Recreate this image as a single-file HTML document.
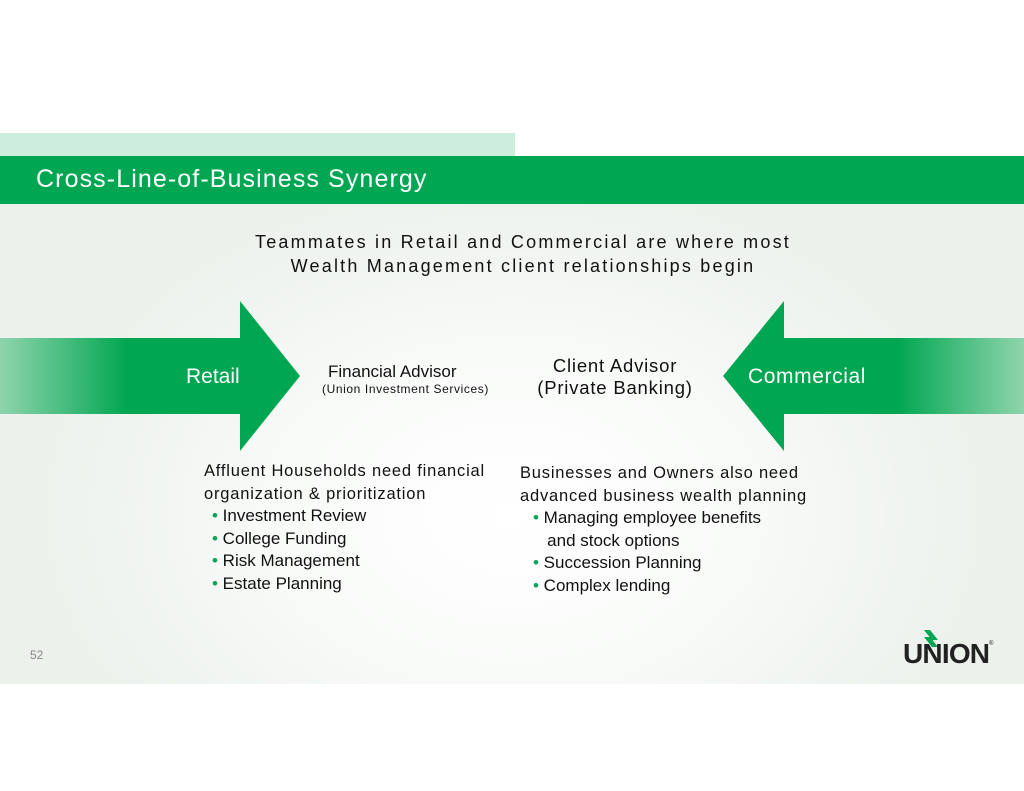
<!DOCTYPE html>
<html><head><meta charset="utf-8"><style>
body{margin:0;width:1024px;height:791px;position:relative;background:#fff;font-family:"Liberation Sans",sans-serif;overflow:hidden}
.a{position:absolute;white-space:nowrap}
</style></head><body>
<div class="a" style="left:0;top:133px;width:515px;height:23px;background:#cdeedd"></div>
<div class="a" style="left:0;top:156px;width:1024px;height:48px;background:#00a651"></div>
<div class="a" style="left:36px;top:165px;font-size:25px;color:#fff;letter-spacing:1.1px">Cross-Line-of-Business Synergy</div>
<div class="a" style="left:0;top:204px;width:1024px;height:480px;background:radial-gradient(ellipse 480px 340px at 512px 310px,#ffffff 0%,#f9fbf9 45%,#ecf1ec 100%)"></div>
<div class="a" style="left:0;top:230px;width:1046px;text-align:center;font-size:18px;line-height:24px;letter-spacing:2.2px;color:#111">Teammates in Retail and Commercial are where most<br>Wealth Management client relationships begin</div>
<svg class="a" style="left:0;top:0" width="1024" height="791">
<defs>
<linearGradient id="gl" x1="0" x2="1"><stop offset="0" stop-color="#8fd4ad"/><stop offset="1" stop-color="#00a651"/></linearGradient>
<linearGradient id="gr" x1="1" x2="0"><stop offset="0" stop-color="#8fd4ad"/><stop offset="1" stop-color="#00a651"/></linearGradient>
</defs>
<rect x="0" y="338" width="128" height="76" fill="url(#gl)"/>
<polygon points="128,338 240,338 240,301 300,376 240,451 240,414 128,414" fill="#00a651"/>
<rect x="896" y="338" width="128" height="76" fill="url(#gr)"/>
<polygon points="896,338 784,338 784,301 723,376 784,451 784,414 896,414" fill="#00a651"/>
</svg>
<div class="a" style="left:186px;top:365px;font-size:21px;color:#fff">Retail</div>
<div class="a" style="left:748px;top:365px;font-size:21px;color:#fff;letter-spacing:0.6px">Commercial</div>
<div class="a" style="left:328px;top:362px;font-size:17px;color:#111">Financial Advisor</div>
<div class="a" style="left:322px;top:382px;font-size:12px;color:#111;letter-spacing:0.6px">(Union Investment Services)</div>
<div class="a" style="left:509px;top:355px;width:212px;text-align:center;font-size:18.5px;line-height:22px;color:#111;letter-spacing:0.8px">Client Advisor<br>(Private Banking)</div>
<div class="a" style="left:204px;top:460px;font-size:16.5px;line-height:22.5px;color:#111;letter-spacing:0.8px">Affluent Households need financial<br>organization &amp; prioritization</div>
<div class="a" style="left:212px;top:505px;font-size:17px;line-height:22.5px;color:#111"><span style="color:#00a651">•</span> Investment Review<br><span style="color:#00a651">•</span> College Funding<br><span style="color:#00a651">•</span> Risk Management<br><span style="color:#00a651">•</span> Estate Planning</div>
<div class="a" style="left:520px;top:462px;font-size:16.5px;line-height:22.5px;color:#111;letter-spacing:0.8px">Businesses and Owners also need<br>advanced business wealth planning</div>
<div class="a" style="left:533px;top:507px;font-size:17px;line-height:22.5px;color:#111"><span style="color:#00a651">•</span> Managing employee benefits<br>&nbsp;&nbsp;&nbsp;and stock options<br><span style="color:#00a651">•</span> Succession Planning<br><span style="color:#00a651">•</span> Complex lending</div>
<div class="a" style="left:30px;top:648px;font-size:12px;color:#888">52</div>
<svg class="a" style="left:880px;top:628px" width="100" height="40">
<polygon points="44,2 50,2 58,12 52,12" fill="#00a651"/>
<polygon points="44,9 50,9 58,19 52,19" fill="#00a651"/>
</svg>
<div class="a" style="left:903px;top:638px;font-size:28px;font-weight:bold;color:#222;letter-spacing:-0.8px">UNION</div>
<div class="a" style="left:989px;top:641px;font-size:6px;color:#222">®</div>
</body></html>
